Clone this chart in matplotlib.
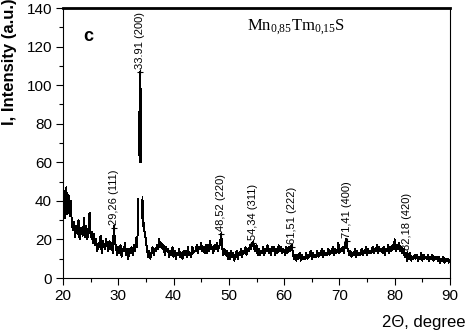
import numpy as np
import matplotlib
matplotlib.use("Agg")
import matplotlib.pyplot as plt
from matplotlib.ticker import MultipleLocator

# 2-theta grid (0.2 deg step) and intensity
two_theta = np.round(np.arange(20.0, 90.0001, 0.2), 1)
intensity = [
    36, 45, 31, 47, 33, 43, 32, 40, 28, 25,   # 20
    29, 21, 27, 23, 30, 20, 26, 24, 22, 31,   # 22
    21, 27, 20, 25, 34, 21, 24, 18, 23, 17,   # 24
    20, 14, 18, 16, 22, 13, 19, 17, 15, 20,   # 26
    17, 14, 19, 15, 18, 13, 27, 19, 16, 12,   # 28
    16, 13, 17, 11, 15, 14, 18, 12, 15, 10,   # 30
    15, 13, 16, 12, 17, 14, 19, 22, 41, 86,   # 32
    107, 62, 42, 30, 24, 19, 15, 11, 14, 10,  # 34
    13, 16, 12, 15, 14, 17, 15, 20, 16, 18,   # 36
    15, 17, 12, 16, 14, 15, 11, 14, 12, 16,   # 38
    11, 14, 10, 13, 12, 15, 11, 13, 10, 14,   # 40
    12, 14, 11, 16, 12, 13, 11, 16, 13, 14,   # 42
    14, 17, 13, 16, 15, 18, 14, 16, 13, 17,   # 44
    13, 17, 14, 19, 15, 16, 13, 17, 15, 18,   # 46
    14, 16, 18, 23, 16, 12, 15, 12, 14, 10,   # 48
    13, 10, 14, 11, 13, 9, 12, 14, 10, 13,    # 50
    12, 15, 11, 14, 13, 16, 12, 15, 14, 17,   # 52
    15, 18, 19, 15, 14, 17, 12, 15, 12, 14,   # 54
    13, 16, 12, 15, 14, 17, 13, 15, 12, 16,   # 56
    14, 16, 12, 15, 13, 17, 14, 16, 13, 15,   # 58
    14, 12, 16, 13, 16, 14, 16, 17, 12, 10,   # 60
    12, 9, 12, 10, 13, 9, 12, 10, 11, 10,     # 62
    13, 10, 12, 11, 14, 10, 13, 11, 12, 11,   # 64
    14, 11, 13, 12, 15, 11, 14, 12, 13, 12,   # 66
    15, 12, 14, 13, 16, 12, 15, 13, 14, 18,   # 68
    13, 15, 14, 16, 13, 17, 20, 16, 14, 12,   # 70
    14, 11, 13, 12, 15, 11, 14, 12, 13, 12,   # 72
    15, 12, 14, 13, 16, 12, 15, 13, 14, 13,   # 74
    16, 13, 15, 14, 17, 13, 16, 14, 15, 13,   # 76
    16, 12, 15, 14, 17, 13, 16, 14, 17, 15,   # 78
    20, 14, 17, 15, 18, 14, 16, 13, 15, 11,   # 80
    13, 9, 12, 10, 13, 9, 11, 10, 12, 10,     # 82
    12, 9, 11, 10, 13, 9, 12, 10, 11, 10,     # 84
    12, 9, 11, 10, 12, 9, 11, 10, 11, 9,      # 86
    11, 8, 10, 9, 11, 8, 10, 9, 10, 8,        # 88
    9,                                        # 90
]

# finer reading around the (200) reflection (nan = no trace drawn)
fine_theta = [33.30, 33.40, 33.48, 33.50, 33.52, 33.54, 33.78, 33.80, 33.82,
              33.84, 33.98, 34.00, 34.02, 34.04, 34.06, 34.08, 34.36, 34.38,
              34.40, 34.45, 34.50, 34.55, 34.60]
fine_int = [21, 16, 22, 41, 24, np.nan, 65, 86, 64,
            np.nan, 60, 107, 87, 98, 60, np.nan, 31, 42,
            29, 33, 27, 30, 25]

# indexed peaks
peak_pos = [29.26, 33.91, 48.52, 54.34, 61.51, 71.41, 82.18]
peak_val = [26, 107, 23, 18, 16, 19, 13]
peak_lbl = ["29,26 (111)", "33.91 (200)", "48,52 (220)", "54,34 (311)",
            "61,51 (222)", "71,41 (400)", "82,18 (420)"]

plt.rcParams["font.family"] = ["Liberation Sans", "DejaVu Sans"]
plt.rcParams["mathtext.fontset"] = "custom"
plt.rcParams["mathtext.rm"] = "Liberation Serif"
plt.rcParams["mathtext.it"] = "Liberation Serif:italic"

# merge coarse and fine readings
keep = (two_theta < 33.25) | (two_theta > 34.65)
x = np.concatenate([two_theta[keep], fine_theta])
y = np.concatenate([np.array(intensity, dtype=float)[keep], fine_int])
order = np.argsort(x)
x, y = x[order], y[order]

fig = plt.figure(figsize=(4.67, 3.35), dpi=100)
ax = fig.add_axes([63 / 467, 1 - 278 / 335, 387 / 467, 270 / 335])

ax.plot(x, y, color="black", lw=0.7, antialiased=False)

for xp, yp, lbl in zip(peak_pos, peak_val, peak_lbl):
    ax.plot(xp, yp, marker="+", color="black", ms=5, mew=0.8)
    ax.text(xp, yp + 1.5, lbl, rotation=90, ha="center", va="bottom",
            fontsize=8)

ax.set_xlim(20, 90)
ax.set_ylim(0, 140)
ax.xaxis.set_major_locator(MultipleLocator(10))
ax.xaxis.set_minor_locator(MultipleLocator(5))
ax.yaxis.set_major_locator(MultipleLocator(20))
ax.yaxis.set_minor_locator(MultipleLocator(10))
ax.tick_params(which="both", direction="out", labelsize=11, width=0.8)
ax.tick_params(which="major", length=5, pad=3)
ax.tick_params(which="minor", length=3)

ax.spines["top"].set_linewidth(2.0)
for s in ["left", "right", "bottom"]:
    ax.spines[s].set_linewidth(0.8)

ax.text(24.5, 125, "c", fontsize=13, fontweight="bold", ha="center", va="center")
ax.text(0.475, 0.93, r"$\mathrm{Mn_{0{,}85}Tm_{0{,}15}S}$", transform=ax.transAxes,
        fontsize=12, ha="left", va="center")

ax.set_ylabel("I, Intensity (a.u.)", fontsize=12, fontweight="bold")
ax.yaxis.set_label_coords(-0.119, 0.80)
fig.text(465 / 467, 1 - 322 / 335, "2\u0398, degree", fontsize=12,
         ha="right", va="center")

fig.savefig("out.png", dpi=100)
